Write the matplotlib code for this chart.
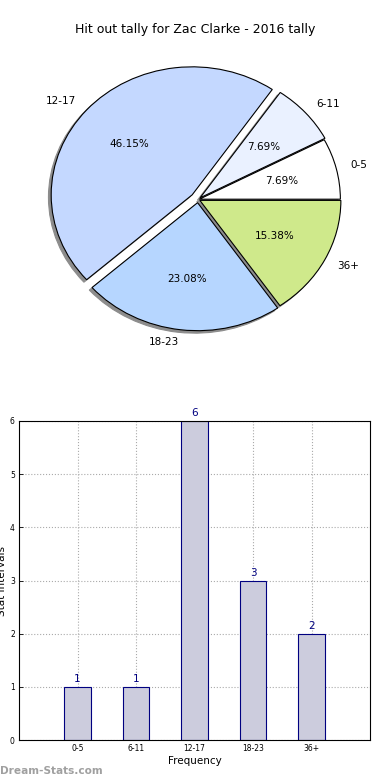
import matplotlib
matplotlib.use("Agg")
import matplotlib.pyplot as plt
import numpy as np

title = "Hit out tally for Zac Clarke - 2016 tally"
categories = ["0-5", "6-11", "12-17", "18-23", "36+"]
counts = [1, 1, 6, 3, 2]
pie_colors = ["#ffffff", "#eaf1ff", "#c4d8ff", "#b6d6ff", "#cfe98b"]
explode = [0.01, 0.02, 0.055, 0.025, 0.015]
y_ticks = [0, 1, 2, 3, 4, 5, 6]

plt.rcParams['font.family'] = ['DejaVu Sans']
fig = plt.figure(figsize=(3.9, 7.8), dpi=100)

fig.text(0.5, 1 - 30 / 780, title, ha='center', va='center', fontsize=9)

# pie (center ~ (198,199) px, rx ~ 141 px, ry ~ 128 px)
rx, ry, cx, cy = 141.0, 128.0, 198.0, 199.5
w_px, h_px = 2.5 * rx, 2.5 * ry
axp = fig.add_axes([(cx - w_px / 2) / 390, (780 - cy - h_px / 2) / 780, w_px / 390, h_px / 780])
wedges, texts, autotexts = axp.pie(
    counts, labels=categories, colors=pie_colors, explode=explode,
    autopct='%.2f%%',
    shadow={'ox': -0.014, 'oy': -0.014, 'facecolor': '#8c8c8c',
            'edgecolor': '#8c8c8c', 'alpha': 1.0},
    startangle=0,
    wedgeprops=dict(edgecolor='black', linewidth=0.8),
    textprops=dict(fontsize=7.5))
axp.set_aspect('auto')
axp.set_xlim(-1.25, 1.25)
axp.set_ylim(-1.25, 1.25)
axp.axis('off')

# bar
axb = fig.add_axes([19 / 390, 1 - 740 / 780, 351 / 390, 319 / 780])
x = np.arange(len(categories))
axb.bar(x, counts, width=0.45, color='#ccccdd', edgecolor='#000080', linewidth=0.8, zorder=2)
for xi, v in zip(x, counts):
    axb.text(xi, v + 0.05, str(v), ha='center', va='bottom', color='#000080', fontsize=7.5)
axb.set_xlim(-1, 5)
axb.set_ylim(0, 6)
axb.set_xticks(x)
axb.set_xticklabels(categories, fontsize=5.5)
axb.set_yticks(y_ticks)
axb.set_yticklabels([str(t) for t in y_ticks], fontsize=5.5)
axb.tick_params(direction='in', length=3, width=0.6, pad=3)
axb.grid(True, linestyle=':', color='#aaaaaa', linewidth=0.8, zorder=0)
axb.set_axisbelow(True)
axb.set_xlabel("Frequency", fontsize=7.5, labelpad=2)
axb.set_ylabel("Stat Intervals", fontsize=7.5, labelpad=2)
for s in axb.spines.values():
    s.set_linewidth(0.8)

fig.text(0.0, 1 - 771 / 780, "Dream-Stats.com", ha='left', va='center',
         fontsize=7.6, fontweight='bold', color='#a0a0a0')

fig.savefig("out.png", dpi=100)
